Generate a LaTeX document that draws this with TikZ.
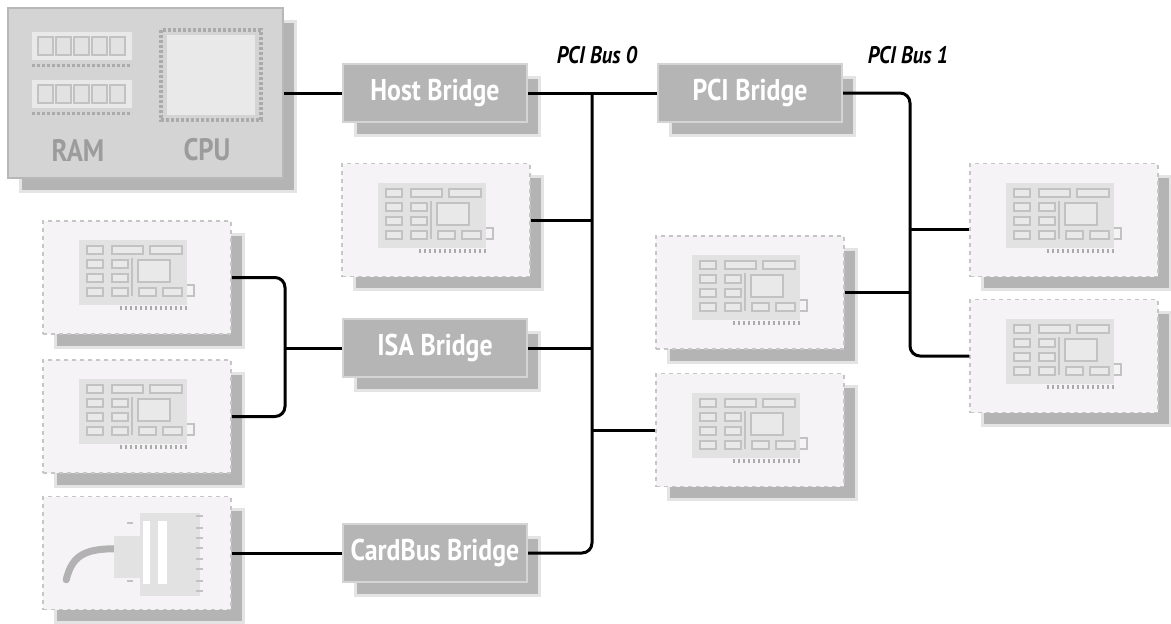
\documentclass[tikz,border=0pt]{standalone}
\usepackage{fontspec}
\setmainfont{PT Sans}[FakeStretch=0.86]
\usetikzlibrary{shadows,calc}
\definecolor{bridgefill}{HTML}{B5B5B5}
\definecolor{bridgerim}{HTML}{D4D4D4}
\definecolor{shadowc}{HTML}{B4B4B4}
\definecolor{halo}{HTML}{E4E4E4}
\definecolor{cardfill}{HTML}{F6F3F6}
\definecolor{cardedge}{HTML}{C6C6C6}
\definecolor{iconfill}{HTML}{E2E2E2}
\definecolor{iconinner}{HTML}{E9E9E9}
\definecolor{iconedge}{HTML}{C2C2C2}
\definecolor{pinc}{HTML}{ABABAB}
\definecolor{boxfill}{HTML}{D4D4D4}
\definecolor{boxedge}{HTML}{B8B8B8}
\definecolor{boxtext}{HTML}{9C9C9C}
\definecolor{cablec}{HTML}{B2B2B2}
\tikzset{
  sh/.style={general shadow={shadow xshift=12pt, shadow yshift=-13pt, solid, fill=shadowc, draw=halo, line width=3pt}},
  bridge/.style={sh, rectangle, fill=bridgefill, draw=bridgerim, line width=2pt,
    minimum width=184pt, minimum height=58pt, inner sep=0pt, text=white,
    font=\bfseries\fontsize{30}{32}\selectfont},
  card/.style={sh, rectangle, fill=cardfill, draw=cardedge, line width=1.5pt,
    dash pattern=on 4pt off 4pt, minimum width=188pt, minimum height=113pt, inner sep=0pt},
  mainbox/.style={sh, rectangle, fill=boxfill, draw=boxedge, line width=2pt,
    minimum width=275pt, minimum height=170pt, inner sep=0pt},
  bus/.style={line width=3pt, rounded corners=10pt},
  buslabel/.style={font=\bfseries\itshape\fontsize{24}{26}\selectfont},
  boxlabel/.style={text=boxtext, font=\bfseries\fontsize{31}{33}\selectfont},
  iconrect/.style={draw=iconedge, fill=iconinner, line width=1.6pt},
  boardicon/.pic={
    \fill[iconfill] (37,20) rectangle (145,85);
    \foreach \y in {26,40,54,68}{\filldraw[iconrect] (45,\y) rectangle (61,\y+8);}
    \filldraw[iconrect] (70,26) rectangle (101,34);
    \foreach \y in {40,54,68}{\filldraw[iconrect] (70,\y) rectangle (86,\y+8);}
    \filldraw[iconrect] (108,26) rectangle (140,34);
    \filldraw[iconrect] (96,40) rectangle (128,62);
    \filldraw[iconrect] (97,68) rectangle (114,76);
    \filldraw[iconrect] (121,68) rectangle (140,76);
    \draw[iconedge, line width=1.6pt] (90,38) -- (90,76);
    \draw[iconedge, line width=1.6pt] (145,65) -- (152,65) -- (152,76) -- (145,76);
    \draw[pinc, line width=4pt, dash pattern=on 2pt off 3pt] (78,88) -- (146,88);
  },
  cardbusicon/.pic={
    \draw[cablec, line width=7pt, line cap=round] (24,84) .. controls (30,58) and (45,53) .. (74,53);
    \fill[iconfill] (72,40) rectangle (98,82);
    \fill[iconfill] (98,17) rectangle (158,100);
    \fill[white] (101,25) rectangle (108,88);
    \fill[white] (116,25) rectangle (125,88);
    \draw[iconedge, line width=2pt] (85,27) -- (91,27) (85,85) -- (91,85);
    \foreach \y in {20,32,42,52,63,73,85,95}{\draw[iconedge, line width=1.5pt] (154,\y) -- (161,\y);}
  },
}
\begin{document}
\begin{tikzpicture}[x=1pt, y=-1pt]
\useasboundingbox (0,0) rectangle (1171,624);

% host (CPU + RAM) box
\node[mainbox] (cpubox) at (145.5,93) {};
\foreach \yy in {32,80}{
  \fill[iconinner] (32,\yy) rectangle (132,\yy+28);
  \foreach \i in {0,...,4}{\filldraw[draw=iconedge, fill=iconfill, line width=1.3pt] (38+18*\i,\yy+5) rectangle (53+18*\i,\yy+23);}
  \draw[pinc, line width=3pt, dash pattern=on 3pt off 2pt] (32,\yy+33) -- (132,\yy+33);
}
\draw[pinc, line width=4pt, dash pattern=on 3pt off 2pt] (161,30) rectangle (261,120);
\fill[iconinner] (167,35) rectangle (255,115);
\node[boxlabel] (ramlabel) at (78,150) {RAM};
\node[boxlabel] (cpulabel) at (207,150) {CPU};

% bridges
\node[bridge] (hb) at (435,93) {Host Bridge};
\node[bridge] (pb) at (750,93) {PCI Bridge};
\node[bridge] (isa) at (435,348) {ISA Bridge};
\node[bridge] (cb) at (435,553) {CardBus Bridge};

% cards
\node[card] (c0) at (436,220) {};
\node[card] (L1) at (137,277.5) {};
\node[card] (L2) at (137,416.5) {};
\node[card] (L3) at (137,553) {};
\node[card] (A) at (750,292.5) {};
\node[card] (B) at (750,430) {};
\node[card] (R1) at (1064,220) {};
\node[card] (R2) at (1064,356) {};

\pic at (c0.north west) {boardicon};
\pic at (L1.north west) {boardicon};
\pic at (L2.north west) {boardicon};
\pic at (A.north west) {boardicon};
\pic at (B.north west) {boardicon};
\pic at (R1.north west) {boardicon};
\pic at (R2.north west) {boardicon};
\pic at (L3.north west) {cardbusicon};

% bus labels
\node[buslabel] (bus0) at (597,55) {PCI Bus 0};
\node[buslabel] (bus1) at (908,55) {PCI Bus 1};

% connectors
\coordinate (b0x) at (592,0);
\coordinate (b1x) at (910,0);
\coordinate (isaj) at (285,0);
\draw[bus] (cpubox.east) -- (hb.west);
\draw[bus] (hb.east) -- (pb.west);
\draw[bus] (cb.east) -| (b0x |- hb.east);
\draw[bus] (c0.east) -- (c0.east -| b0x);
\draw[bus] (isa.east) -- (isa.east -| b0x);
\draw[bus] (B.west) -- (B.west -| b0x);
\draw[bus] (pb.east) -| (b1x |- R2.west) -- (R2.west);
\draw[bus] (A.east) -- (A.east -| b1x);
\coordinate (r1in) at ([yshift=-9pt]R1.west);
\draw[bus] (r1in) -- (r1in -| b1x);
\draw[bus] (L1.east) -| (isaj |- L2.east) -- (L2.east);
\draw[bus] (isa.west) -- (isa.west -| isaj);
\draw[bus] (cb.west) -- (L3.east);
\end{tikzpicture}
\end{document}
